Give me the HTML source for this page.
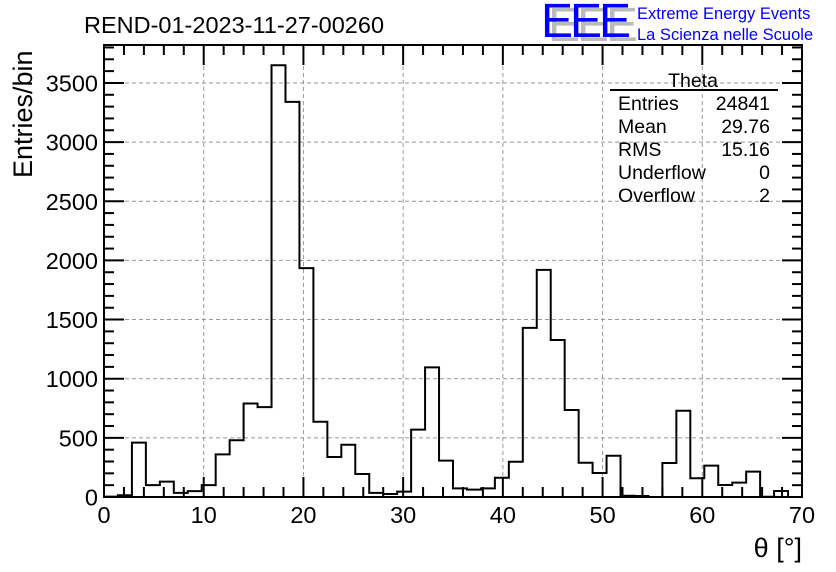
<!DOCTYPE html>
<html><head><meta charset="utf-8"><style>
body{margin:0;background:#fff;}
svg{display:block;font-family:"Liberation Sans",sans-serif;}
</style></head><body>
<svg id="chart" width="836" height="572" viewBox="0 0 836 572">
<rect width="836" height="572" fill="#fff"/>
<text x="84" y="33" font-size="23.5">REND-01-2023-11-27-00260</text>
<g>
<text x="548" y="41" font-size="48" fill="#bbb" letter-spacing="-3">EEE</text>
<text x="541" y="37" font-size="48" fill="#0000ff" letter-spacing="-3">EEE</text>
<text x="637" y="19" font-size="16.5" fill="#0000ff">Extreme Energy Events</text>
<text x="637" y="40" font-size="16.5" fill="#0000ff">La Scienza nelle Scuole</text>
</g>
<g id="grid"></g>
<g id="hist"></g>
<g id="axes"></g>
<g font-size="19.5">
<text x="693" y="87" text-anchor="middle">Theta</text>
<line x1="610" y1="90" x2="778" y2="90" stroke="#000" stroke-width="2"/>
<text x="618" y="110">Entries</text><text x="770" y="110" text-anchor="end">24841</text>
<text x="618" y="133">Mean</text><text x="770" y="133" text-anchor="end">29.76</text>
<text x="618" y="156">RMS</text><text x="770" y="156" text-anchor="end">15.16</text>
<text x="618" y="179">Underflow</text><text x="770" y="179" text-anchor="end">0</text>
<text x="618" y="202">Overflow</text><text x="770" y="202" text-anchor="end">2</text>
</g>
<text transform="translate(32,178) rotate(-90)" font-size="27">Entries/bin</text>
<text x="802" y="557" text-anchor="end" font-size="27">θ [°]</text>
</svg>
<script>
const binLow = 0, binWidth = 1.4;
const counts = [3,15,460,100,130,35,50,100,360,480,790,760,3650,3340,1935,636,338,442,194,35,25,45,569,1096,307,73,62,73,163,298,1430,1920,1327,735,290,203,349,11,8,0,287,729,158,265,101,121,214,2,51,0];
const xTicks = [0,10,20,30,40,50,60,70];
const yTicks = [0,500,1000,1500,2000,2500,3000,3500];
const X0=104,X1=802,Y0=497,Y1=45,xMax=70,yPerPx=0.1183;
const sx=v=>X0+(v/xMax)*(X1-X0);
const sy=v=>Y0-v*yPerPx;
const NS="http://www.w3.org/2000/svg";
function mk(t,a,p){const e=document.createElementNS(NS,t);for(const k in a)e.setAttribute(k,a[k]);p.appendChild(e);return e;}
const grid=document.getElementById('grid'),hist=document.getElementById('hist'),axes=document.getElementById('axes');
xTicks.forEach(v=>{if(v>0&&v<xMax){const l=mk('line',{x1:sx(v),x2:sx(v),y1:Y1,y2:Y0,stroke:'#999','stroke-dasharray':'4,3'},grid);

}});
yTicks.forEach(v=>{if(v>0){const l=mk('line',{x1:X0,x2:X1,y1:sy(v),y2:sy(v),stroke:'#999','stroke-dasharray':'4,3'},grid);

}});
let d='M'+sx(binLow)+','+Y0;
counts.forEach((c,i)=>{const a=sx(binLow+i*binWidth),b=sx(binLow+(i+1)*binWidth);d+=' L'+a+','+sy(c)+' L'+b+','+sy(c);});
d+=' L'+sx(binLow+counts.length*binWidth)+','+Y0;
const p=mk('path',{d:d,fill:'none',stroke:'#000','stroke-width':2},hist);


const fr=mk('rect',{x:X0,y:Y1,width:X1-X0,height:Y0-Y1,fill:'none',stroke:'#000','stroke-width':2},axes);


for(let v=0;v<=xMax;v+=2){const major=v%10===0,L=major?20:10;
mk('line',{x1:sx(v),x2:sx(v),y1:Y0,y2:Y0-L,stroke:'#000','stroke-width':2},axes);
mk('line',{x1:sx(v),x2:sx(v),y1:Y1,y2:Y1+L,stroke:'#000','stroke-width':2},axes);}
xTicks.forEach(v=>{const t=mk('text',{x:sx(v),y:523,'text-anchor':'middle','font-size':23.5},axes);t.textContent=v;

});
for(let v=0;sy(v)>=Y1;v+=100){const major=v%500===0,L=major?20:10;
mk('line',{x1:X0,x2:X0+L,y1:sy(v),y2:sy(v),stroke:'#000','stroke-width':2},axes);
mk('line',{x1:X1,x2:X1-L,y1:sy(v),y2:sy(v),stroke:'#000','stroke-width':2},axes);}
yTicks.forEach(v=>{const t=mk('text',{x:98,y:sy(v)+8.5,'text-anchor':'end','font-size':23.5},axes);t.textContent=v;

});
</script>
</body></html>
